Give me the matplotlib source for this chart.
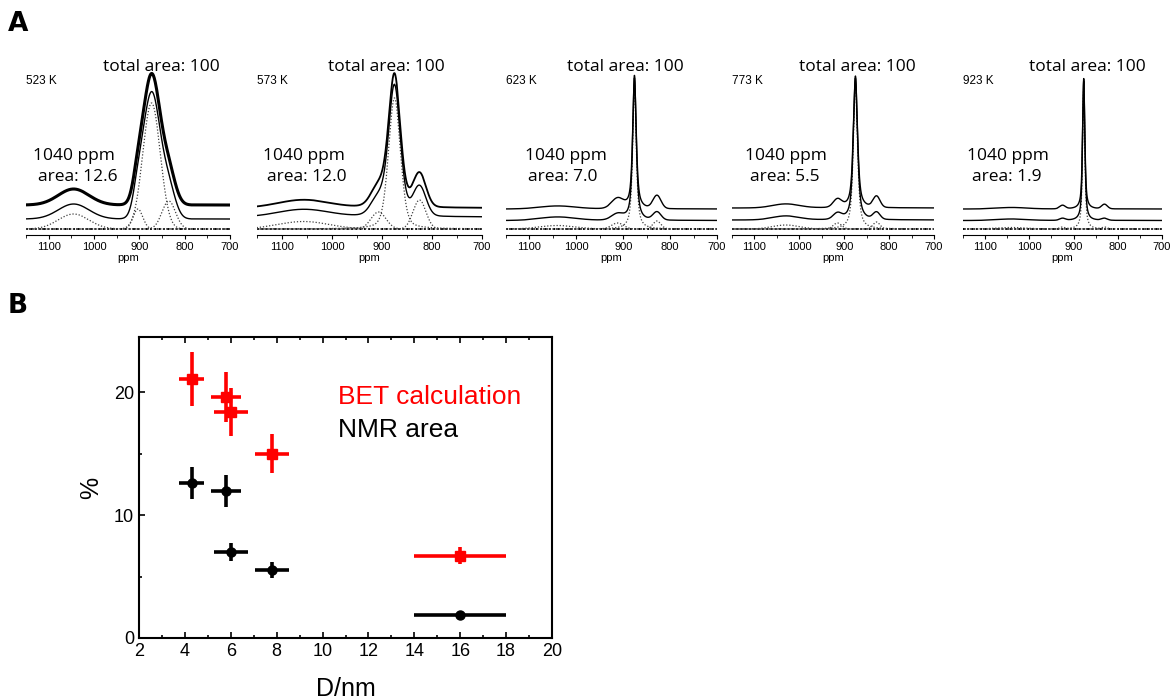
import numpy as np
import matplotlib
matplotlib.use('Agg')
import matplotlib.pyplot as plt
from matplotlib.ticker import MultipleLocator

# 29Si NMR spectra, one panel per annealing temperature
temps = ['523 K', '573 K', '623 K', '773 K', '923 K']
area_1040 = [12.6, 12.0, 7.0, 5.5, 1.9]

# fitted components: position (ppm), height, FWHM (ppm), Lorentzian fraction
peak_pos = [
    [1045, 903, 873, 835],
    [1057, 907, 875, 825],
    [1040, 912, 876, 828],
    [1030, 915, 875, 828],
    [1040, 925, 877, 830],
]
peak_height = [
    [15, 20, 126, 28],
    [7.5, 17, 131, 29],
    [3.5, 6, 145, 8],
    [4, 6, 144, 7],
    [1.5, 2, 142, 2],
]
peak_fwhm = [
    [80, 25, 45, 35],
    [120, 35, 28, 30],
    [90, 30, 9, 20],
    [70, 22, 11, 18],
    [80, 15, 6, 15],
]
peak_lorentz = [
    [0, 0, 0, 0],
    [0, 0, 0.3, 0],
    [0, 0, 0.75, 0],
    [0, 0, 0.7, 0],
    [0, 0, 0.7, 0],
]
# heights of the same lines in the measured spectrum
meas_height = [
    [16, 20, 130, 30],
    [8, 19, 133, 33],
    [3, 10, 131, 13],
    [4, 8, 130, 11],
    [1.5, 3.5, 128, 4.5],
]

# panel B: particle size vs. fraction of surface species
D_nm = [4.3, 5.8, 6.0, 7.8, 16.0]
D_err = [0.55, 0.65, 0.75, 0.75, 2.0]
bet = [21.1, 19.6, 18.4, 15.0, 6.7]
bet_err = [2.2, 2.05, 1.95, 1.6, 0.7]
nmr = area_1040
nmr_err = [1.3, 1.3, 0.75, 0.65, 0.2]

W, H = 1175, 700
ANNOT = ['Open Sans', 'DejaVu Sans']
ARIAL = ['Liberation Sans', 'DejaVu Sans']

# panel A layout (pixels)
panel_left = [26, 257, 506, 732, 963]
panel_right = [230, 482, 717, 934, 1162]
fit_shift = [10, 12, 8.5, 9, 8.5]
meas_shift = [24, 21, 20, 21, 20]
meas_lw = [2.2, 1.3, 1.0, 1.0, 1.0]
total_x = [161, 386, 625, 857, 1087]
ppm_x = [33, 263, 525, 745, 967]
area_x = [38, 267, 528, 750, 972]


def lineshape(x, pos, h, w, eta):
    g = np.exp(-4 * np.log(2) * ((x - pos) / w) ** 2)
    l = 1.0 / (1 + (2 * (x - pos) / w) ** 2)
    return h * ((1 - eta) * g + eta * l)


def fx(px):
    return px / W


def fy(py):
    return 1 - py / H


fig = plt.figure(figsize=(W / 100, H / 100), dpi=100)

x = np.linspace(700, 1150, 2000)
for i in range(5):
    ax = fig.add_axes([fx(panel_left[i]), fy(235),
                       (panel_right[i] - panel_left[i]) / W, 175 / H])
    ax.set_xlim(1150, 700)
    ax.set_ylim(-6, 169)

    comps = [lineshape(x, p, h, w, e) for p, h, w, e in
             zip(peak_pos[i], peak_height[i], peak_fwhm[i], peak_lorentz[i])]
    meas = sum(lineshape(x, p, h, w, e) for p, h, w, e in
               zip(peak_pos[i], meas_height[i], peak_fwhm[i], peak_lorentz[i]))

    ax.plot([1150, 700], [0, 0], color='k', lw=1.4, ls=(0, (1, 1.2)))
    for c in comps:
        ax.plot(x, c, color='0.25', lw=0.9, ls=(0, (1, 1.5)))
    ax.plot(x, sum(comps) + fit_shift[i], color='k', lw=1.0)
    ax.plot(x, meas + meas_shift[i], color='k', lw=meas_lw[i])

    for s in ['top', 'left', 'right']:
        ax.spines[s].set_visible(False)
    ax.spines['bottom'].set_linewidth(0.8)
    ax.set_yticks([])
    ax.set_xticks([1100, 1000, 900, 800, 700])
    ax.xaxis.set_minor_locator(MultipleLocator(50))
    ax.tick_params(axis='x', which='major', direction='out', length=3,
                   width=0.8, labelsize=8, pad=2)
    ax.tick_params(axis='x', which='minor', direction='out', length=2, width=0.6)
    for lab in ax.get_xticklabels():
        lab.set_family(ARIAL)
    ax.set_xlabel('ppm', fontsize=8, family=ARIAL, labelpad=1)
    ax.patch.set_alpha(0)

    fig.text(fx(panel_left[i]), fy(81), temps[i], fontsize=8.5, family=ARIAL,
             ha='left', va='center')
    fig.text(fx(total_x[i]), fy(71), 'total area: 100', fontsize=12.5,
             family=ANNOT, ha='center', va='baseline')
    fig.text(fx(ppm_x[i]), fy(160), '1040 ppm', fontsize=12.5,
             family=ANNOT, ha='left', va='baseline')
    fig.text(fx(area_x[i]), fy(181), 'area: %.1f' % area_1040[i], fontsize=12.5,
             family=ANNOT, ha='left', va='baseline')

# panel B
axB = fig.add_axes([fx(139), fy(638), 413 / W, 301 / H])
axB.errorbar(D_nm, nmr, xerr=D_err, yerr=nmr_err, fmt='o', color='k',
             ms=6.5, elinewidth=2.6, capsize=0)
axB.errorbar(D_nm, bet, xerr=D_err, yerr=bet_err, fmt='s', color='#ff0000',
             ms=7, elinewidth=2.6, capsize=0)
axB.set_xlim(2, 20)
axB.set_ylim(0, 24.5)
axB.set_xticks(range(2, 21, 2))
axB.set_yticks([0, 10, 20])
axB.xaxis.set_minor_locator(MultipleLocator(1))
axB.yaxis.set_minor_locator(MultipleLocator(5))
axB.tick_params(which='both', direction='in', top=True, right=False,
                labelsize=13, width=1.2)
axB.tick_params(which='major', length=4)
axB.tick_params(which='minor', length=2.5)
for lab in axB.get_xticklabels() + axB.get_yticklabels():
    lab.set_family(ARIAL)
for s in axB.spines.values():
    s.set_linewidth(1.5)
axB.set_xlabel('D/nm', fontsize=18, family=ARIAL, labelpad=12)
axB.set_ylabel('%', fontsize=18, family=ARIAL, labelpad=8)
axB.text(0.482, 0.777, 'BET calculation', transform=axB.transAxes,
         color='#ff0000', fontsize=19, family=ARIAL, va='baseline')
axB.text(0.482, 0.668, 'NMR area', transform=axB.transAxes,
         color='k', fontsize=19, family=ARIAL, va='baseline')

fig.text(fx(8), fy(24), 'A', fontsize=19, fontweight='bold', family='DejaVu Sans',
         ha='left', va='center')
fig.text(fx(8), fy(306), 'B', fontsize=19, fontweight='bold', family='DejaVu Sans',
         ha='left', va='center')

fig.savefig('out.png', dpi=100)
